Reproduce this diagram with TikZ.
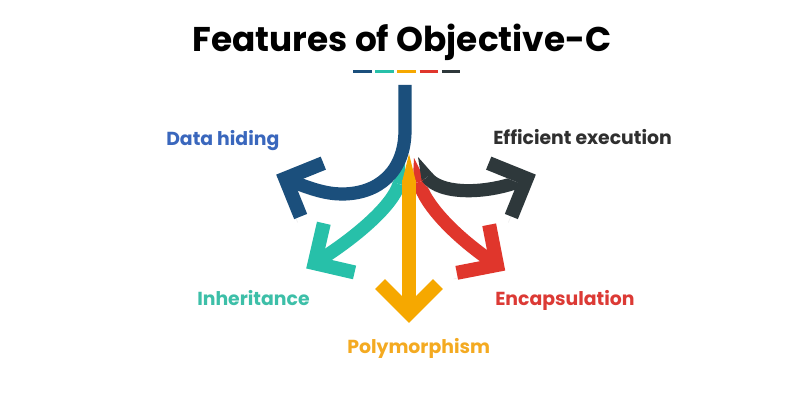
\documentclass[tikz,border=0pt]{standalone}
\usepackage{fontspec}
\setmainfont{Poppins}
\usepackage{tikz}

\definecolor{cblue}{HTML}{1B4F7C}
\definecolor{cteal}{HTML}{27C0A9}
\definecolor{cyellow}{HTML}{F6A800}
\definecolor{cred}{HTML}{E0362C}
\definecolor{cdark}{HTML}{2E383B}
\definecolor{tblue}{HTML}{3A67BD}
\definecolor{tteal}{HTML}{3DBFA8}
\definecolor{tyellow}{HTML}{F4AA21}
\definecolor{tred}{HTML}{DC3A35}
\definecolor{tdark}{HTML}{2F2F2F}

\begin{document}
\begin{tikzpicture}[x=0.025cm, y=-0.025cm,
  drop/.style={preaction={draw=black!7, transform canvas={shift={(-3,6)}}}},
  shaft/.style={line width=3.3mm, drop},
  head/.style={line width=3.5mm, line join=miter, miter limit=4, drop},
  lbl/.style={anchor=base west, inner sep=0pt, font=\fontsize{13.4}{15}\selectfont\bfseries}]
\useasboundingbox[fill=white] (0,0) rectangle (800,400);

% title and colour dashes
\node[anchor=base, inner sep=0pt, font=\fontsize{24.4}{28}\selectfont\bfseries] (title) at (402,52) {Features of Objective-C};
\foreach \c [count=\i from 0] in {cblue,cteal,cyellow,cred,cdark}
  \draw[\c, line width=0.75mm] (353+22.2*\i,72) -- (371.5+22.2*\i,72);

% start points and arrow vertices
\coordinate (bs) at (405,85);
\coordinate (bv) at (285.3,178.5);
\coordinate (ts) at (405,160);
\coordinate (tv) at (314.6,263.2);
\coordinate (ys) at (409,154);
\coordinate (yv) at (409,313);
\coordinate (rs) at (414,158);
\coordinate (rv) at (497,265);
\coordinate (ds) at (418,157);
\coordinate (dv) at (526.7,178.5);

% teal
\fill[cteal] (ts) -- (405.3,185.8) -- (392.8,182.2) -- cycle;
\draw[shaft, cteal] (399,184) .. controls (393,205) and (357,237) .. (tv);
\draw[head, cteal] (tv) +(-77:41) -- (tv) -- +(13:41);

% red
\fill[cred] (rs) -- (425.3,180.4) -- (412.7,183.6) -- cycle;
\draw[shaft, cred] (419,182) .. controls (425,205) and (455,237) .. (rv);
\draw[head, cred] (rv) +(-101:41) -- (rv) -- +(169:41);

% dark
\fill[cdark] (ds) -- (432.3,173.2) -- (421.7,180.8) -- cycle;
\draw[shaft, cdark] (427,177) .. controls (440,195) and (488,195) .. (dv);
\draw[head, cdark] (dv) +(112:41) -- (dv) -- +(202:41);

% yellow
\fill[cyellow] (ys) -- (415.5,180) -- (402.5,180) -- cycle;
\draw[shaft, cyellow] (409,180) -- (yv);
\draw[head, cyellow] (yv) +(-45:41) -- (yv) -- +(-135:41);

% blue
\draw[shaft, cblue] (bs) -- (405,130) .. controls (405,172) and (378,194) .. (342,194)
  .. controls (328,194) and (312,190) .. (bv);
\draw[head, cblue] (bv) +(-22:41) -- (bv) -- +(68:41);

% labels
\node[lbl, text=tblue] (hide) at (166,146) {Data hiding};
\node[lbl, text=tdark] (exec) at (493,144.3) {Efficient execution};
\node[lbl, text=tteal] (inh) at (197,305) {Inheritance};
\node[lbl, text=tyellow] (poly) at (347,353) {Polymorphism};
\node[lbl, text=tred] (enc) at (495,305) {Encapsulation};
\end{tikzpicture}
\end{document}
